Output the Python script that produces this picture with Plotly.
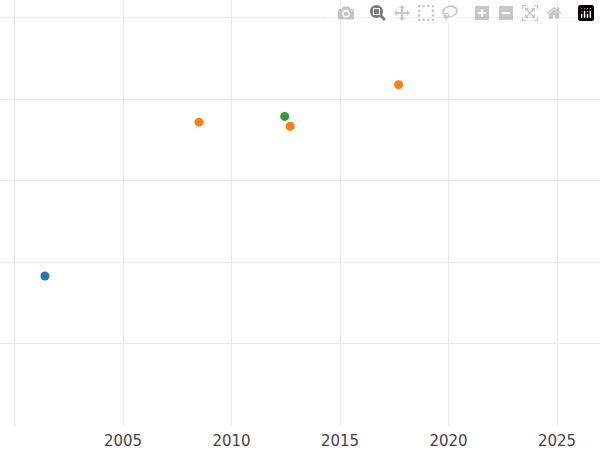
import plotly.graph_objects as go

# values
blue_x = [2001.4]
blue_y = [1.83]
orange_x = [2008.5, 2012.7, 2017.7]
orange_y = [3.72, 3.67, 4.18]
green_x = [2012.45]
green_y = [3.79]

fig = go.Figure()
for xs, ys, col in [(blue_x, blue_y, "#1f77b4"),
                    (orange_x, orange_y, "#ff7f0e"),
                    (green_x, green_y, "#2ca02c")]:
    fig.add_trace(go.Scatter(x=xs, y=ys, mode="markers",
                             marker=dict(color=col, size=9), showlegend=False))

fig.update_layout(
    width=600, height=450,
    margin=dict(l=0, r=0, t=0, b=23, pad=0),
    plot_bgcolor="white", paper_bgcolor="white",
    font=dict(family="DejaVu Sans", size=15, color="#444"),
)
fig.update_xaxes(range=[1999.33, 2026.98], dtick=5, tick0=2000,
                 showgrid=True, gridcolor="#e8e8e8", zeroline=False,
                 ticklen=2, tickcolor="white", ticks="outside")
fig.update_yaxes(range=[0, 5.22], dtick=1, showticklabels=False,
                 showgrid=True, gridcolor="#e8e8e8", zeroline=False)

fig.write_html("out.html", post_script="document.body.style.margin='0';")
